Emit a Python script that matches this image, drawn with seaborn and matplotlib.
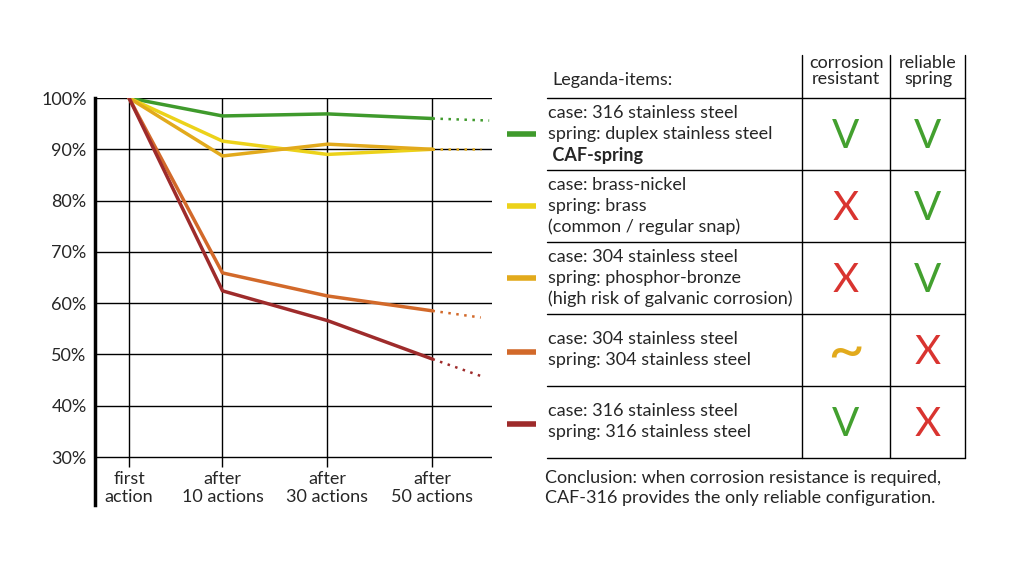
import pandas as pd
import numpy as np
import seaborn as sns
import matplotlib.pyplot as plt

# ---- data ----
stages = ["first\naction", "after\n10 actions", "after\n30 actions", "after\n50 actions"]
stage_pos = [0, 0.89, 1.89, 2.89]

series_names = ["caf", "brass", "phosphor", "ss304", "ss316"]
caf_spring = [100, 96.5, 96.9, 96.0]
brass_nickel = [100, 91.6, 89.0, 90.0]
phosphor_bronze = [100, 88.7, 91.0, 90.0]
ss304 = [100, 65.9, 61.4, 58.5]
ss316 = [100, 62.4, 56.6, 49.1]

# dotted trend after the 50th action (None = no trend line)
trend_end = [95.6, None, 90.0, 57.2, 45.8]
trend_x = [3.43, None, 3.35, 3.35, 3.35]

colors = ["#3f9a2c", "#ecd21a", "#e2aa1c", "#d2692a", "#9e2b2b"]

legend_text = [
    ["case: 316 stainless steel", "spring: duplex stainless steel", " CAF-spring"],
    ["case: brass-nickel", "spring: brass", "(common / regular snap)"],
    ["case: 304 stainless steel", "spring: phosphor-bronze", "(high risk of galvanic corrosion)"],
    ["case: 304 stainless steel", "spring: 304 stainless steel"],
    ["case: 316 stainless steel", "spring: 316 stainless steel"],
]
corrosion_resistant = ["V", "X", "X", "~", "V"]
reliable_spring = ["V", "V", "V", "X", "X"]

yticks = [30, 40, 50, 60, 70, 80, 90, 100]

# ---- build long form table ----
all_vals = [caf_spring, brass_nickel, phosphor_bronze, ss304, ss316]
rows = []
for name, vals in zip(series_names, all_vals):
    for p, v in zip(stage_pos, vals):
        rows.append({"series": name, "x": p, "value": v})
df = pd.DataFrame(rows)

trows = []
for name, vals, te, tx in zip(series_names, all_vals, trend_end, trend_x):
    if te is None:
        continue
    trows.append({"series": name, "x": stage_pos[-1], "value": vals[-1]})
    trows.append({"series": name, "x": tx, "value": te})
dft = pd.DataFrame(trows)

palette = dict(zip(series_names, colors))

sns.set_style("white")
plt.rcParams["font.family"] = ["Lato", "DejaVu Sans"]
FS = 13

W, H = 1035, 564
fig = plt.figure(figsize=(W / 100, H / 100), dpi=100)

# chart axes: left spine x=95, right 492 px; 100% at y=98, spine bottom at 505
ax = fig.add_axes([95 / W, 1 - 505 / H, (492 - 95) / W, (505 - 98) / H])
ax.set_xlim(-0.324, 3.457)
ymin = 30 - (505 - 457) / 5.13
ax.set_ylim(ymin, 100)

ax.set_yticks(yticks)
ax.set_yticklabels([f"{t}%" for t in yticks], fontsize=FS)
ax.tick_params(axis="y", length=0, pad=6)
ax.set_xticks([])
ax.grid(axis="y", color="black", linewidth=1.0)
ax.vlines(stage_pos, 28, 100, color="black", linewidth=1.0, zorder=1)
for s in ["top", "right", "bottom"]:
    ax.spines[s].set_visible(False)
ax.spines["left"].set_linewidth(2.5)
ax.spines["left"].set_color("black")

sns.lineplot(data=dft, x="x", y="value", hue="series", palette=palette,
             hue_order=series_names, linewidth=1.8, linestyle=(0, (1, 2.2)),
             legend=False, ax=ax, sort=False, zorder=3)
sns.lineplot(data=df, x="x", y="value", hue="series", palette=palette,
             hue_order=series_names, linewidth=2.5, legend=False, ax=ax,
             sort=False, zorder=4)
ax.set_xlabel("")
ax.set_ylabel("")

for p, lab in zip(stage_pos, stages):
    ax.text(p, 27.3, lab, ha="center", va="top", fontsize=FS, linespacing=1.2)

# ---- right-hand table in pixel coords ----
tab = fig.add_axes([0, 0, 1, 1])
tab.set_xlim(0, W)
tab.set_ylim(H, 0)
tab.axis("off")

row_lines = [98, 170, 242, 314, 386, 458]
for y in row_lines:
    tab.plot([547, 965], [y, y], color="black", lw=1.0)
for x in [802, 890, 965]:
    tab.plot([x, x], [55, 458], color="black", lw=1.0)

tab.text(552, 80, "Leganda-items:", fontsize=FS, va="center", ha="left")
tab.text(846, 71, "corrosion\nresistant", fontsize=FS, va="center", ha="center",
         linespacing=0.95)
tab.text(928, 71, "reliable\nspring", fontsize=FS, va="center", ha="center",
         linespacing=0.95)

mark_color = {"V": "#43a02f", "X": "#d93430", "~": "#e2aa1c"}
for i, (lines, c1, c2, col) in enumerate(zip(legend_text, corrosion_resistant,
                                              reliable_spring, colors)):
    top, bot = row_lines[i], row_lines[i + 1]
    mid = (top + bot) / 2
    n = len(lines)
    for k, line in enumerate(lines):
        yy = mid + (k - (n - 1) / 2) * 21
        bold = line.strip() == "CAF-spring"
        tab.text(548, yy, line, fontsize=FS, va="center", ha="left",
                 fontweight="bold" if bold else "normal")
    bar_y = mid if n == 3 else mid + 2
    tab.plot([507, 536], [bar_y, bar_y], color=col, lw=4, solid_capstyle="butt")
    for cx, m in [(846, c1), (928, c2)]:
        if m == "~":
            tab.text(cx, mid + 4, m, fontsize=46, va="center", ha="center",
                     color=mark_color[m])
        else:
            tab.text(cx, mid + 2, m, fontsize=29, va="center", ha="center",
                     color=mark_color[m])

tab.text(545, 478, "Conclusion: when corrosion resistance is required,",
         fontsize=FS, va="center", ha="left")
tab.text(545, 498, "CAF-316 provides the only reliable configuration.",
         fontsize=FS, va="center", ha="left")

fig.savefig("out.png", dpi=100, facecolor="white")
